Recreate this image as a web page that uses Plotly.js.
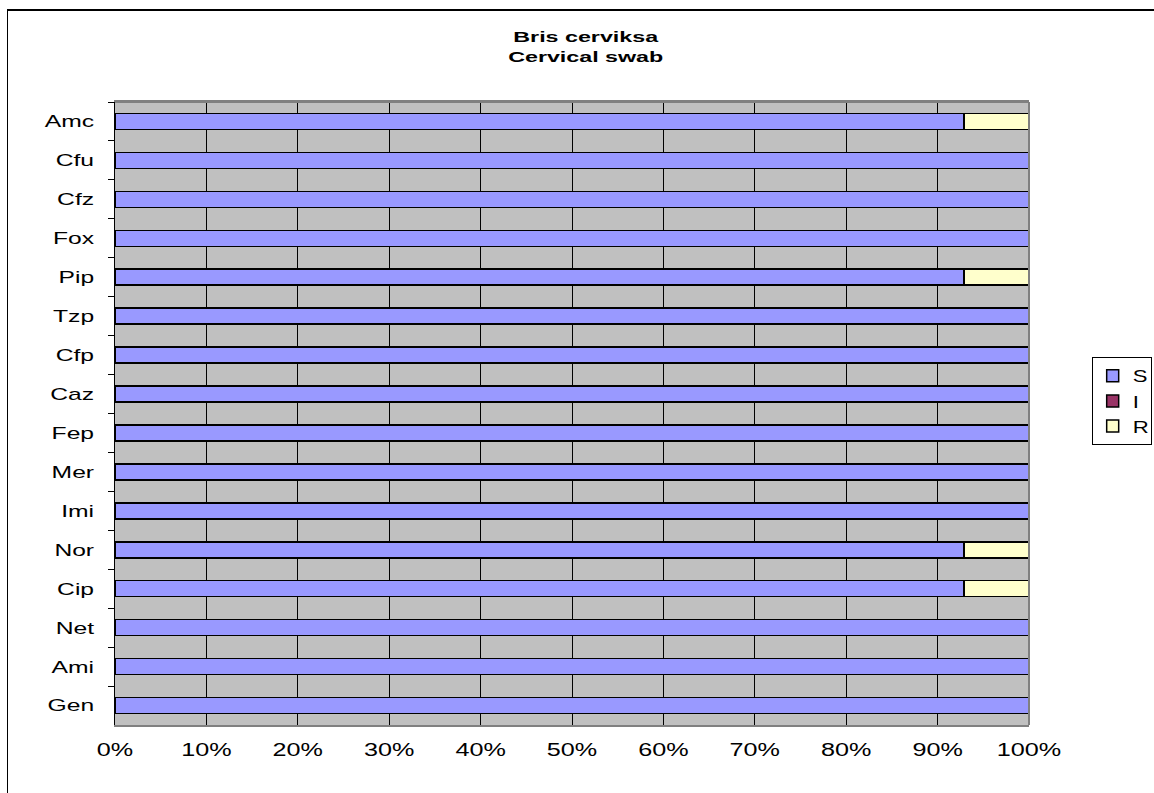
<!DOCTYPE html>
<html>
<head>
<meta charset="utf-8">
<script src="https://cdn.plot.ly/plotly-3.0.1.min.js"></script>
<style>
  html, body { margin: 0; padding: 0; background: #fff; }
  #wrap { position: relative; width: 1154px; height: 793px; overflow: hidden; }
  #frame { position: absolute; left: 7px; top: 9px; width: 1200px; height: 900px;
           border-left: 1px solid #000; border-top: 2px solid #000; pointer-events: none; }
  #chart { position: absolute; left: 0; top: 0; width: 1154px; height: 793px; }
</style>
</head>
<body>
<div id="wrap">
  <div id="chart"></div>
  <div id="frame"></div>
</div>
<script>
// Antibiotics, listed top to bottom
const antibiotics = ['Amc', 'Cfu', 'Cfz', 'Fox', 'Pip', 'Tzp', 'Cfp', 'Caz',
                     'Fep', 'Mer', 'Imi', 'Nor', 'Cip', 'Net', 'Ami', 'Gen'];
// Share of isolates (%) susceptible / intermediate / resistant
const susceptible  = [92.9, 100, 100, 100, 92.9, 100, 100, 100, 100, 100, 100, 92.9, 92.9, 100, 100, 100];
const intermediate = [0, 0, 0, 0, 0, 0, 0, 0, 0, 0, 0, 0, 0, 0, 0, 0];
const resistant    = [7.1, 0, 0, 0, 7.1, 0, 0, 0, 0, 0, 0, 7.1, 7.1, 0, 0, 0];
const pctTicks = [0, 10, 20, 30, 40, 50, 60, 70, 80, 90, 100];

const seriesNames = ['S', 'I', 'R'];
const seriesColors = ['#9999FF', '#993366', '#FFFFCC'];
const seriesValues = [susceptible, intermediate, resistant];

const traces = seriesNames.map((name, i) => ({
  type: 'bar',
  orientation: 'h',
  name: name,
  y: antibiotics,
  x: seriesValues[i],
  marker: { color: seriesColors[i], line: { color: '#000', width: 1.5 } },
  hoverinfo: 'name+x'
}));

const layout = {
  width: 1154,
  height: 793,
  margin: { l: 115, r: 125, t: 102, b: 68 },
  paper_bgcolor: '#fff',
  plot_bgcolor: '#C0C0C0',
  barmode: 'stack',
  bargap: 0.59,
  showlegend: true,
  font: { family: 'Arial, Liberation Sans, sans-serif', color: '#000', size: 17 },
  title: {
    text: '<b>Bris cerviksa<br>Cervical swab</b>',
    font: { size: 15, family: 'Arial, Liberation Sans, sans-serif', color: '#000' },
    xref: 'paper', x: 0.515, xanchor: 'center',
    yref: 'container', y: 0.947, yanchor: 'top'
  },
  xaxis: {
    range: [0, 100],
    tickvals: pctTicks,
    ticktext: pctTicks.map(v => v + '%'),
    showgrid: true,
    gridcolor: '#000',
    gridwidth: 1,
    zeroline: false,
    showline: true,
    linecolor: '#808080',
    linewidth: 2,
    mirror: true,
    ticks: '',
    ticklabelstandoff: 7,
    tickfont: { size: 18 },
    fixedrange: true
  },
  yaxis: {
    type: 'category',
    categoryorder: 'array',
    categoryarray: antibiotics,
    autorange: 'reversed',
    showgrid: false,
    zeroline: false,
    showline: true,
    linecolor: '#000',
    linewidth: 1.5,
    ticks: 'outside',
    tickson: 'boundaries',
    ticklen: 6,
    tickcolor: '#000',
    tickwidth: 1,
    ticklabelstandoff: 16,
    tickfont: { size: 17 },
    fixedrange: true
  },
  legend: {
    xref: 'container', x: 0.946, xanchor: 'left',
    yref: 'container', y: 0.494, yanchor: 'middle',
    traceorder: 'normal',
    bordercolor: '#000',
    borderwidth: 1,
    bgcolor: '#fff',
    font: { size: 17 },
    itemwidth: 30,
    tracegroupgap: 0
  },
  shapes: [
    // grey right and top border of the plotting area
    { type: 'line', xref: 'paper', yref: 'paper', x0: 1, x1: 1, y0: 0, y1: 1,
      line: { color: '#808080', width: 2 } },
    { type: 'line', xref: 'paper', yref: 'paper', x0: 0, x1: 1, y0: 1, y1: 1,
      line: { color: '#808080', width: 2 } }
  ]
};

// Widen the glyphs of a set of text nodes horizontally by a given factor
function widenText(root, selector, factor) {
  root.querySelectorAll(selector).forEach(el => {
    const w = el.getComputedTextLength();
    if (w > 0) {
      el.setAttribute('textLength', (w * factor).toFixed(1));
      el.setAttribute('lengthAdjust', 'spacingAndGlyphs');
    }
  });
}

Plotly.newPlot('chart', traces, layout, { displayModeBar: false, staticPlot: true })
  .then(gd => {
    widenText(gd, '.gtitle tspan.line', 1.55);
    widenText(gd, '.xtick text', 1.4);
    widenText(gd, '.ytick text', 1.45);
    widenText(gd, '.legendtext', 1.3);
  });
</script>
</body>
</html>
